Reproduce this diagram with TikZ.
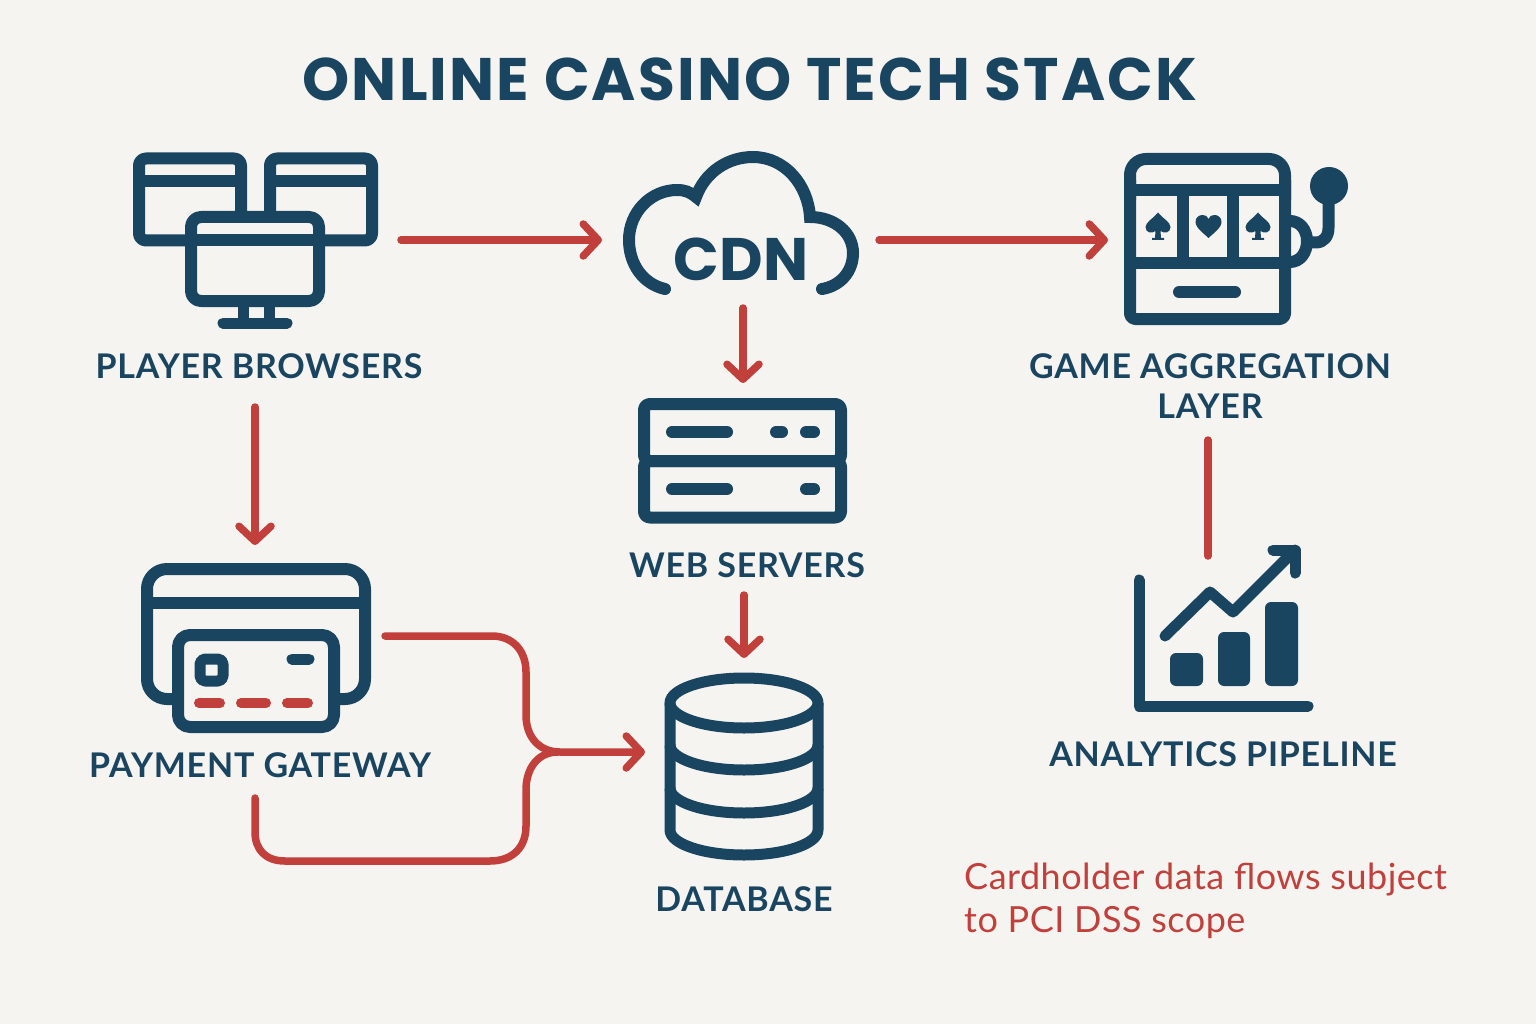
\documentclass[tikz,border=0pt]{standalone}
\usepackage{fontspec}
\setmainfont{Lato}
\newfontfamily\titlefont[LetterSpace=3.5]{Poppins}
\newfontfamily\cloudfont{Poppins}
\newfontfamily\capfont[LetterSpace=2.3]{Lato}
\newfontfamily\notefont[LetterSpace=1.4]{Lato}
\usepackage{tikz}
\usetikzlibrary{arrows.meta}

\definecolor{navy}{HTML}{1A4560}
\definecolor{flowred}{HTML}{C1403B}
\definecolor{paper}{HTML}{F6F4F0}

\tikzset{
  iconline/.style={draw=navy, line width=12pt, line cap=round, line join=round},
  iconbox/.style={inner sep=0pt, outer sep=0pt, minimum width=#1},
  flow/.style={draw=flowred, line width=7.5pt, line cap=round, line join=round,
    -{Straight Barb[round, length=15pt, width=32pt]}},
  flowplain/.style={draw=flowred, line width=7.5pt, line cap=round, line join=round},
  caption/.style={text=navy, font=\capfont\fontsize{34}{40}\selectfont\bfseries, inner sep=0pt, outer sep=0pt, align=center},
}

\begin{document}
\begin{tikzpicture}[x=1pt, y=-1pt]
    \fill[paper] (0, 0) rectangle (1536, 1024);
    \useasboundingbox (0, 0) rectangle (1536, 1024);

    \node[text=navy, font=\titlefont\fontsize{60}{70}\selectfont\bfseries, inner sep=0pt] (heading) at (750, 79) {ONLINE CASINO TECH STACK};

    % Invisible boxes, connectors end on their sides
    \node[iconbox=272pt, minimum height=176pt] (browsers) at (265, 240) {};
    \node[iconbox=277pt, minimum height=136pt] (cdn) at (740.5, 240) {};
    \node[iconbox=200pt, minimum height=176pt] (game) at (1208, 240) {};
    \node[iconbox=210pt, minimum height=152pt] (web) at (743, 459) {};
    \node[iconbox=260pt, minimum height=182pt] (pay) at (255, 636) {};
    \node[iconbox=198pt, minimum height=188pt] (db) at (744, 752) {};
    \node[iconbox=200pt, minimum height=154pt] (chart) at (1208, 633) {};

    % Player browsers
    \foreach \x in {139, 270} {
        \draw[iconline, rounded corners=7pt] (\x, 158.5) rectangle (\x + 102, 240.5);
        \draw[iconline, line cap=butt] (\x, 181) -- (\x + 102, 181);
    }
    \draw[iconline, fill=paper, rounded corners=10pt] (191, 217) rectangle (319, 301);
    \draw[iconline, line cap=butt] (191, 240) -- (319, 240);
    \draw[iconline, line cap=butt, line width=11pt] (243, 301) -- (243, 323);
    \draw[iconline, line cap=butt, line width=11pt] (269, 301) -- (269, 323);
    \draw[iconline, line width=11pt] (223, 323) -- (287, 323);

    % Cloud
    \draw[iconline, line join=miter] (665, 289) .. controls (643, 284) and (629, 264) .. (629, 240)
        .. controls (629, 212) and (651, 190) .. (677, 190)
        .. controls (685, 190) and (690, 192) .. (696, 197)
        .. controls (705, 172) and (728, 157) .. (753, 157)
        .. controls (785, 157) and (808, 185) .. (810, 217)
        .. controls (835, 217) and (853, 233) .. (853, 253)
        .. controls (853, 272) and (840, 286) .. (822, 289);
    \node[text=navy, font=\cloudfont\fontsize{60}{70}\selectfont\bfseries, inner sep=0pt] (cdnname) at (741, 259) {CDN};

    % Slot machine
    \draw[iconline, rounded corners=16pt] (1130, 200) -- (1130, 159) -- (1285, 159) -- (1285, 200);
    \draw[iconline, rounded corners=5pt] (1130, 180) -- (1130, 319) -- (1285, 319) -- (1285, 180);
    \draw[iconline, line cap=butt] (1130, 190) -- (1285, 190);
    \draw[iconline, line cap=butt] (1130, 263) -- (1285, 263);
    \draw[iconline, line cap=butt] (1183, 190) -- (1183, 263);
    \draw[iconline, line cap=butt] (1233, 190) -- (1233, 263);
    \draw[iconline] (1179, 292) -- (1235, 292);
    \foreach \x in {1158, 1258} {
        \begin{scope}[shift={(\x, 225)}]
            \fill[navy] (0, -12.5) .. controls (4, -7) and (12.5, -3) .. (12.5, 2)
                .. controls (12.5, 8) and (6, 9) .. (2.5, 6) -- (3, 13) -- (6, 13) -- (6, 15)
                -- (-6, 15) -- (-6, 13) -- (-3, 13) -- (-2.5, 6)
                .. controls (-6, 9) and (-12.5, 8) .. (-12.5, 2)
                .. controls (-12.5, -3) and (-4, -7) .. (0, -12.5) -- cycle;
        \end{scope}
    }
    \begin{scope}[shift={(1208.5, 226)}]
        \fill[navy] (0, 12) .. controls (-4, 8) and (-13, 2) .. (-13, -4)
            .. controls (-13, -9) and (-9, -11) .. (-6, -11)
            .. controls (-3, -11) and (-1, -10) .. (0, -7)
            .. controls (1, -10) and (3, -11) .. (6, -11)
            .. controls (9, -11) and (13, -9) .. (13, -4)
            .. controls (13, 2) and (4, 8) .. (0, 12) -- cycle;
    \end{scope}
    \draw[iconline] (1285, 221) -- (1290, 221) .. controls (1300, 221) and (1307, 230) .. (1307, 241)
        .. controls (1307, 253) and (1300, 262) .. (1290, 262) -- (1285, 262);
    \draw[iconline] (1307, 242.5) -- (1316, 242.5) .. controls (1324, 242.5) and (1328.5, 236) .. (1328.5, 228) -- (1328.5, 186);
    \fill[navy] (1329, 186) circle (19);

    % Web servers
    \draw[iconline, rounded corners=6pt] (644, 404) rectangle (841, 461);
    \draw[iconline, rounded corners=6pt] (644, 461) rectangle (841, 517.5);
    \foreach \y in {432, 489} {
        \draw[iconline, line width=12pt] (672, \y) -- (727, \y);
        \draw[iconline, line width=12pt] (806, \y) -- (814, \y);
    }
    \draw[iconline, line width=12pt] (776, 432) -- (782, 432);

    % Payment gateway
    \draw[iconline, rounded corners=20pt] (147, 569) rectangle (365, 699);
    \draw[iconline, line cap=butt] (147, 603) -- (365, 603);
    \draw[iconline, fill=paper, rounded corners=12pt] (178, 635) rectangle (334, 727);
    \draw[iconline, line width=11pt, rounded corners=5pt] (200, 659) rectangle (223, 681);
    \draw[iconline, line width=11pt] (292, 659) -- (309, 659);
    \foreach \a/\b in {199/220, 241/266, 287/308} {
        \draw[draw=flowred, line width=10pt, line cap=round] (\a, 703) -- (\b, 703);
    }

    % Database
    \draw[iconline, line width=11pt] (744, 703) ellipse [x radius=74, y radius=25];
    \draw[iconline, line width=11pt, line cap=butt] (670, 703) -- (670, 830) arc [start angle=180, end angle=0, x radius=74, y radius=25] -- (818, 703);
    \foreach \y in {745, 788} {
        \draw[iconline, line width=11pt, line cap=butt] (670, \y) arc [start angle=180, end angle=0, x radius=74, y radius=25];
    }

    % Analytics chart
    \draw[iconline, line width=11pt] (1139, 580) -- (1139, 706) -- (1308, 706);
    \draw[iconline, line width=11pt] (1165, 636) -- (1210, 592) -- (1233, 612) -- (1295, 550);
    \draw[iconline, line width=11pt] (1273, 550) -- (1295, 550) -- (1295, 573);
    \fill[navy, rounded corners=6pt] (1170, 653) rectangle (1203, 686);
    \fill[navy, rounded corners=6pt] (1218, 632) rectangle (1250, 686);
    \fill[navy, rounded corners=6pt] (1265, 602) rectangle (1298, 686);

    % Captions
    \node[caption, minimum height=82pt] (lblbrowsers) at (259, 366) {PLAYER BROWSERS};
    \node[caption, minimum height=108pt] (lblgame) at (1210, 386) {GAME AGGREGATION\\LAYER};
    \node[caption, minimum height=60pt] (lblweb) at (747, 565) {WEB SERVERS};
    \node[caption, minimum height=66pt] (lblpay) at (260, 765) {PAYMENT GATEWAY};
    \node[caption] (lblchart) at (1223, 754) {ANALYTICS PIPELINE};
    \node[caption] (lbldb) at (744, 899) {DATABASE};
    \node[text=flowred, font=\notefont\fontsize{36}{43}\selectfont, align=left, inner sep=0pt, anchor=north west] (note) at (964, 863) {Cardholder data flows subject\\to PCI DSS scope};

    % Flows
    \draw[flow] (browsers.east) -- (cdn.west);
    \draw[flow] (cdn.east) -- (game.west);
    \draw[flow] (cdn.south -| web.north) -- (web.north);
    \draw[flow] (lblbrowsers.south -| pay.north) -- (pay.north);
    \draw[flow] (lblweb.south -| db.north) -- (db.north);
    \draw[flowplain] (chart.north |- lblgame.south) -- (chart.north);

    \coordinate (paybottom) at (255, 798);
    \draw[flow] (pay.east) -- (492, 636) .. controls (512, 636) and (526, 650) .. (526, 672)
        -- (526, 715) .. controls (526, 738) and (540, 752) .. (560, 752) -- (db.west);
    \draw[flowplain] (paybottom) -- (255, 832) .. controls (255, 850) and (266, 861) .. (285, 861)
        -- (490, 861) .. controls (512, 861) and (526, 848) .. (526, 826)
        -- (526, 790) .. controls (526, 768) and (538, 752) .. (558, 752);
\end{tikzpicture}
\end{document}
